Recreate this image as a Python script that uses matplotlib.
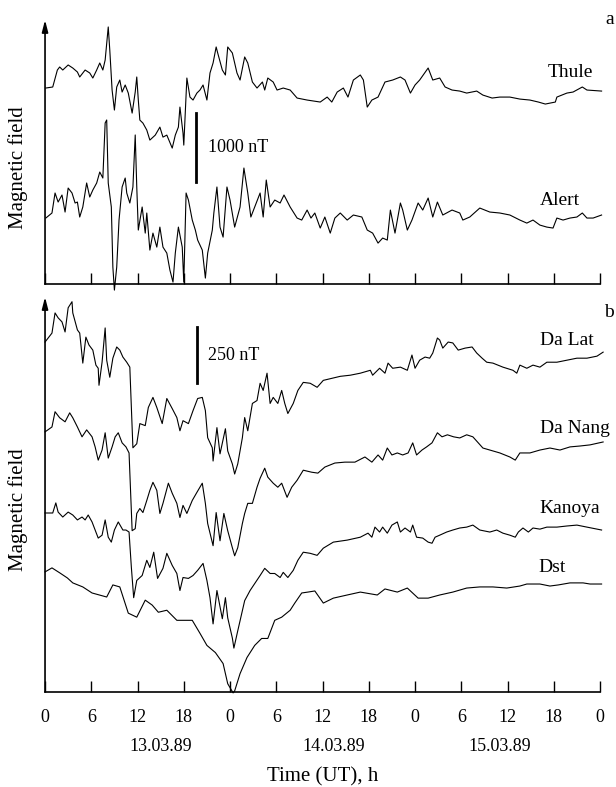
import matplotlib
matplotlib.use("Agg")
import matplotlib.pyplot as plt

plt.rcParams['font.family'] = ['Liberation Serif', 'DejaVu Serif']

# time in hours from 00 UT 13.03.89, field variation in nT relative to start of record
thule_t = [0.1, 1.0, 1.6, 1.9, 2.3, 3.0, 3.6, 4.2, 4.5, 5.2, 5.8, 6.2, 6.7, 7.1, 7.5, 7.8, 8.2, 8.4, 8.7, 9.0,
           9.3, 9.7, 10.0, 10.4, 10.8, 11.3, 11.7, 11.9, 12.1, 12.3, 12.7, 13.2, 13.6, 14.3, 14.9, 15.3, 15.8,
           16.5, 16.9, 17.3, 17.5, 17.9, 18.0, 18.4, 18.8, 19.2, 19.7, 20.1, 20.5, 21.0, 21.4, 21.8, 22.2, 22.4,
           23.0, 23.4, 23.7, 24.3, 24.9, 25.3, 25.9, 26.3, 26.9, 27.5, 28.2, 28.5, 28.9, 29.6, 30.1, 30.9, 31.8,
           32.7, 34.0, 35.7, 36.6, 37.2, 37.9, 38.7, 39.3, 40.0, 40.9, 41.3, 41.8, 42.4, 43.2, 44.1, 45.1, 46.1,
           46.7, 47.4, 48.0, 48.6, 49.7, 50.3, 51.2, 51.9, 52.8, 53.8, 54.7, 56.0, 56.8, 58.0, 59.0, 60.3, 61.6,
           62.9, 64.0, 64.9, 66.2, 66.4, 67.7, 68.5, 69.7, 70.3, 72.2]
thule_v = [0, 15, 261, 305, 261, 334, 290, 232, 160, 261, 218, 145, 261, 363, 261, 406, 885, 551, -29, -319,
           15, 116, -58, 44, -73, -363, -58, 160, -174, -464, -508, -609, -754, -682, -566, -711, -682,
           -870, -682, -566, -276, -653, -827, 145, -131, -174, -73, -29, 44, -174, 218, 363, 595, 508,
           261, 189, 595, 508, 218, 116, 450, 363, 87, 0, 87, -29, 145, 87, -29, 0, -29,
           -145, -174, -203, -131, -203, -58, 0, -131, 116, 189, 116, -276, -174, -131, 87, 116, 160,
           116, -73, 44, 116, 290, 116, 145, 15, -29, -44, -73, -44, -102, -145, -131, -131, -160,
           -174, -203, -232, -203, -131, -73, -58, 15, -29, -44]

alert_t = [0.1, 0.9, 1.3, 1.7, 2.2, 2.6, 3.0, 3.5, 3.9, 4.2, 4.5, 4.9, 5.4, 5.8, 6.2, 6.7, 7.1, 7.5, 7.8, 8.0,
           8.2, 8.6, 8.8, 9.0, 9.3, 9.6, 10.0, 10.4, 10.6, 11.0, 11.4, 11.7, 11.9, 12.1, 12.6, 13.0, 13.2, 13.6,
           14.0, 14.5, 14.9, 15.3, 15.8, 16.2, 16.6, 16.9, 17.3, 17.8, 18.0, 18.3, 18.6, 19.1, 19.5, 19.8, 20.4,
           20.8, 21.1, 21.7, 21.9, 22.3, 22.7, 23.1, 23.6, 24.0, 24.6, 25.3, 25.8, 26.3, 26.7, 27.2, 27.9, 28.3,
           28.7, 29.2, 29.8, 30.5, 31.0, 31.8, 32.7, 33.3, 34.0, 34.5, 35.0, 35.7, 36.3, 37.0, 37.6, 38.3, 39.2,
           40.0, 41.1, 41.8, 42.5, 43.2, 43.8, 44.4, 44.8, 45.4, 46.1, 46.4, 47.0, 47.6, 48.4, 49.0, 49.7, 50.3,
           50.9, 51.6, 52.8, 53.8, 54.2, 55.1, 56.4, 57.7, 59.0, 60.3, 61.6, 62.5, 63.3, 64.2, 65.1, 65.9, 66.4,
           67.2, 68.1, 69.0, 69.7, 70.3, 71.1, 72.2]
alert_v = [0, 73, 363, 232, 334, 87, 435, 363, 218, 232, 15, 160, 508, 305, 406, 508, 667, 580, 1378, 1421,
           508, 160, -711, -1044, -711, -29, 450, 580, 363, 218, 450, 1204, 450, -174, 160, -218, 73, -464,
           -218, -421, -131, -421, -508, -754, -928, -508, -131, -421, -928, 363, 261, -29, -174, -319, -464,
           -870, -508, -174, 73, 450, -131, -276, 450, 261, -131, 160, 725, 363, 15, 160, 363, 15,
           551, 160, 261, 218, 334, 160, 0, -29, 116, 0, 73, -145, 15, -218, 0, 73, -29,
           44, 15, -174, -218, -363, -290, -319, 116, -218, 218, 116, -174, -29, 218, 116, 290, 15,
           232, 44, 116, 73, -29, 15, 145, 87, 73, 44, -29, -73, -29, -102, -131, -145, 0,
           -29, 0, 15, 73, 0, 0, 44]

dalat_t = [0.0, 0.9, 1.3, 1.7, 2.2, 2.6, 3.0, 3.5, 3.6, 4.2, 4.5, 4.9, 5.3, 5.7, 6.2, 6.6, 6.9, 7.0, 7.4, 7.8,
           8.0, 8.4, 8.8, 9.3, 9.7, 10.1, 10.6, 11.0, 11.4, 11.9, 12.3, 13.0, 13.4, 14.0, 14.5, 15.2, 15.8, 16.5,
           17.1, 17.5, 17.9, 18.6, 19.2, 19.8, 20.4, 20.8, 21.1, 21.7, 21.8, 22.3, 22.7, 23.4, 23.7, 24.3, 24.6,
           25.0, 25.6, 25.9, 26.3, 26.9, 27.5, 27.9, 28.3, 28.8, 29.2, 29.6, 30.2, 30.7, 31.1, 31.5, 32.2, 32.8,
           33.5, 34.4, 35.3, 36.1, 37.2, 38.3, 39.6, 40.9, 42.2, 42.5, 43.4, 44.1, 44.5, 45.1, 46.1, 47.0, 47.6,
           48.0, 48.6, 49.3, 49.9, 50.3, 50.9, 51.2, 51.6, 52.3, 52.9, 53.6, 54.5, 55.4, 56.0, 56.7, 57.3, 58.1,
           59.4, 60.7, 61.2, 61.6, 62.5, 63.3, 64.2, 65.1, 66.4, 67.7, 69.0, 70.3, 71.6, 72.4]
dalat_v = [0, 40, 130, 108, 90, 45, 153, 180, 130, 54, 40, -94, 22, -13, -36, -103, -117, -193, -90, 63,
           -81, -157, -72, -22, -36, -67, -90, -112, -472, -454, -364, -373, -292, -247, -292, -364, -252, -297,
           -337, -396, -351, -364, -306, -252, -247, -306, -427, -472, -531, -382, -499, -387, -486, -544, -589,
           -544, -427, -337, -396, -274, -261, -184, -216, -139, -274, -247, -274, -216, -274, -319, -274, -216,
           -180, -184, -202, -171, -162, -153, -148, -139, -126, -148, -117, -139, -94, -117, -112, -126, -58,
           -117, -81, -67, -72, -49, 18, 9, -27, 0, -4, -36, -27, -22, -49, -72, -90, -94,
           -112, -126, -139, -103, -117, -103, -112, -90, -90, -81, -72, -72, -63, -45]

danang_t = [0.0, 0.9, 1.3, 1.9, 2.6, 3.2, 3.6, 4.2, 4.8, 5.4, 6.1, 6.5, 6.9, 7.4, 7.8, 8.2, 8.7, 9.1, 9.5, 10.0,
            10.5, 10.9, 11.3, 11.7, 11.9, 12.3, 12.7, 13.2, 13.6, 14.0, 14.5, 14.9, 15.3, 16.0, 16.5, 17.1, 17.5,
            17.9, 18.4, 19.1, 19.7, 20.4, 20.8, 21.1, 21.8, 22.2, 22.7, 23.2, 23.7, 24.3, 24.6, 25.0, 25.6, 25.9,
            26.3, 26.9, 27.5, 27.9, 28.5, 28.9, 29.6, 30.2, 30.7, 31.4, 32.0, 32.7, 33.5, 34.6, 35.4, 36.3, 37.6,
            38.9, 40.2, 41.5, 42.4, 43.2, 43.8, 44.4, 45.0, 45.7, 46.4, 47.1, 47.7, 48.2, 48.9, 49.5, 50.2, 50.9,
            51.5, 52.2, 53.0, 53.8, 54.7, 55.5, 56.1, 56.8, 57.7, 59.0, 60.3, 61.0, 61.6, 62.9, 64.2, 65.5, 66.8,
            68.1, 69.4, 70.7, 72.4]
danang_v = [0, 22, 90, 63, 45, 85, 63, 22, -22, 9, -22, -67, -126, -81, -4, -117, -67, -22, -4, -49,
            -67, -94, -441, -432, -364, -342, -360, -306, -261, -225, -261, -364, -319, -229, -274, -319, -382,
            -328, -364, -306, -270, -229, -319, -409, -508, -360, -486, -364, -441, -517, -553, -517, -409, -364,
            -319, -319, -247, -207, -162, -202, -229, -247, -229, -292, -247, -216, -171, -180, -184, -157, -139,
            -135, -135, -112, -135, -103, -126, -72, -103, -94, -103, -94, -49, -103, -81, -67, -49, -4,
            -22, -13, -22, -27, -13, -22, -45, -72, -81, -94, -112, -126, -94, -94, -81, -72, -81,
            -67, -63, -58, -45]

kanoya_t = [0.0, 1.0, 1.4, 1.7, 2.3, 3.0, 3.6, 4.2, 4.8, 5.2, 5.6, 6.1, 6.5, 6.9, 7.4, 7.8, 8.2, 8.6, 9.0, 9.5,
            10.1, 10.5, 10.9, 11.2, 11.5, 11.9, 12.6, 13.2, 13.6, 14.1, 14.6, 15.3, 15.8, 16.5, 17.1, 17.5, 17.9,
            18.6, 19.2, 19.8, 20.5, 21.0, 21.4, 21.8, 22.3, 23.0, 23.4, 23.7, 24.3, 24.5, 25.0, 25.6, 25.9, 26.6,
            27.2, 27.9, 28.5, 29.2, 29.8, 30.5, 30.9, 31.5, 32.2, 32.8, 33.5, 34.4, 35.3, 36.1, 37.4, 39.2, 40.9,
            41.9, 42.4, 42.8, 43.4, 43.8, 44.4, 45.0, 45.7, 46.1, 46.7, 47.4, 47.7, 48.2, 49.0, 49.7, 50.2, 50.6,
            51.2, 52.1, 52.9, 53.8, 54.7, 55.5, 56.4, 57.7, 58.6, 59.4, 60.3, 61.0, 61.4, 62.0, 62.7, 63.3, 64.2,
            65.1, 66.4, 67.7, 69.0, 70.3, 72.2]
kanoya_v = [0, 0, 45, 4, -18, 4, -9, -31, -18, -31, -9, -40, -76, -112, -99, -31, -108, -130, -76, -40,
            -76, -76, -85, -243, -378, -301, -279, -211, -243, -175, -292, -247, -180, -234, -270, -346, -288,
            -292, -279, -256, -225, -301, -378, -495, -346, -472, -378, -468, -558, -603, -526, -436, -391, -346,
            -315, -279, -247, -270, -270, -288, -265, -288, -256, -211, -175, -180, -189, -157, -130, -121, -108,
            -90, -108, -63, -85, -63, -90, -54, -40, -85, -67, -85, -54, -108, -112, -130, -135, -108,
            -99, -85, -76, -67, -63, -54, -76, -85, -76, -90, -99, -108, -85, -67, -85, -67, -72,
            -63, -63, -58, -54, -63, -76]

dst_t = [0.0, 0.9, 1.9, 2.9, 3.6, 4.9, 6.1, 8.0, 8.8, 9.7, 10.8, 11.9, 13.0, 13.9, 14.7, 15.8, 17.1, 19.1, 20.1,
         21.0, 22.1, 23.1, 23.7, 24.4, 24.6, 25.3, 26.2, 27.2, 28.1, 28.9, 29.8, 30.7, 31.8, 32.4, 33.3, 34.1,
         35.0, 36.1, 37.4, 39.2, 40.9, 43.1, 44.1, 45.7, 47.0, 48.4, 49.7, 51.2, 52.9, 54.7, 56.4, 58.1, 59.9,
         61.6, 62.5, 64.2, 65.5, 66.6, 68.1, 69.8, 70.7, 72.2]
dst_v = [0, 18, -4, -27, -49, -67, -94, -112, -58, -67, -184, -202, -126, -148, -180, -171, -216, -216, -274,
         -328, -360, -409, -499, -540, -531, -454, -382, -328, -297, -297, -216, -202, -171, -139, -94, -90,
         -85, -139, -117, -103, -90, -103, -76, -90, -72, -117, -117, -103, -90, -72, -67, -67, -72,
         -63, -54, -54, -63, -58, -49, -49, -54, -54]

# stacking offsets (nT) used to separate the records
offsets_a = {'Thule': 2840, 'Alert': 956}
offsets_b = {'Da Lat': 1562, 'Da Nang': 1161, 'Kanoya': 799, 'Dst': 536}

tick_hours = list(range(0, 73, 6))
tick_labels = ['0', '6', '12', '18'] * 3 + ['0']
dates = ['13.03.89', '14.03.89', '15.03.89']
date_hours = [15.0, 37.5, 59.0]

fig = plt.figure(figsize=(6.16, 7.87), dpi=100)
ax_a = fig.add_axes([0.0731, 0.6391, 0.9010, 0.3355])
ax_b = fig.add_axes([0.0731, 0.1207, 0.9010, 0.5019])

lw = 0.8
ax_a.plot(thule_t, [v + offsets_a['Thule'] for v in thule_v], color='black', lw=lw, clip_on=False)
ax_a.plot(alert_t, [v + offsets_a['Alert'] for v in alert_v], color='black', lw=lw, clip_on=False)
ax_b.plot(dalat_t, [v + offsets_b['Da Lat'] for v in dalat_v], color='black', lw=lw, clip_on=False)
ax_b.plot(danang_t, [v + offsets_b['Da Nang'] for v in danang_v], color='black', lw=lw, clip_on=False)
ax_b.plot(kanoya_t, [v + offsets_b['Kanoya'] for v in kanoya_v], color='black', lw=lw, clip_on=False)
ax_b.plot(dst_t, [v + offsets_b['Dst'] for v in dst_v], color='black', lw=lw, clip_on=False)

ax_a.set_ylim(0, 3826)
ax_b.set_ylim(0, 1763)

for ax in (ax_a, ax_b):
    ax.set_xlim(0, 72)
    for side in ('top', 'right', 'left'):
        ax.spines[side].set_visible(False)
    ax.spines['bottom'].set_linewidth(1.2)
    ax.set_yticks([])
    ax.set_xticks(tick_hours)
    ax.tick_params(axis='x', direction='in', length=8, width=1.0, labelsize=13, pad=12)
    ax.annotate('', xy=(0, 1), xycoords='axes fraction', xytext=(0, 0),
                arrowprops=dict(arrowstyle='-|>,head_length=0.7,head_width=0.18', lw=1.2,
                                color='black', shrinkA=0, shrinkB=0))

ax_a.set_xticklabels([])
ax_b.set_xticklabels(tick_labels)

# scale bars
ax_a.plot([19.6, 19.6], [1478, 2478], color='black', lw=2)
ax_a.text(21.1, 1978, '1000 nT', fontsize=13, va='center', ha='left')
ax_b.plot([19.7, 19.7], [1379, 1629], color='black', lw=2)
ax_b.text(21.1, 1504, '250 nT', fontsize=13, va='center', ha='left')

# station names
ax_a.text(68.1, 3072, 'Thule', fontsize=14, ha='center', va='center')
ax_a.text(66.8, 1217, 'Alert', fontsize=14, ha='center', va='center')
ax_b.text(67.7, 1571, 'Da Lat', fontsize=14, ha='center', va='center')
ax_b.text(68.7, 1178, 'Da Nang', fontsize=14, ha='center', va='center')
ax_b.text(68.0, 821, 'Kanoya', fontsize=14, ha='center', va='center')
ax_b.text(65.8, 554, 'Dst', fontsize=14, ha='center', va='center')

ax_a.text(73.2, 3826, 'a', fontsize=14, ha='center', va='center', clip_on=False)
ax_b.text(73.2, 1696, 'b', fontsize=14, ha='center', va='center', clip_on=False)

trans = ax_b.get_xaxis_transform()
for d, h in zip(dates, date_hours):
    ax_b.text(h, -0.137, d, fontsize=13, ha='center', va='center', transform=trans)
ax_b.text(36, -0.215, 'Time (UT), h', fontsize=15, ha='center', va='center', transform=trans)

fig.text(0.030, 0.7865, 'Magnetic field', fontsize=15, rotation=90, ha='center', va='center')
fig.text(0.030, 0.352, 'Magnetic field', fontsize=15, rotation=90, ha='center', va='center')

fig.savefig('out.png', dpi=100)
